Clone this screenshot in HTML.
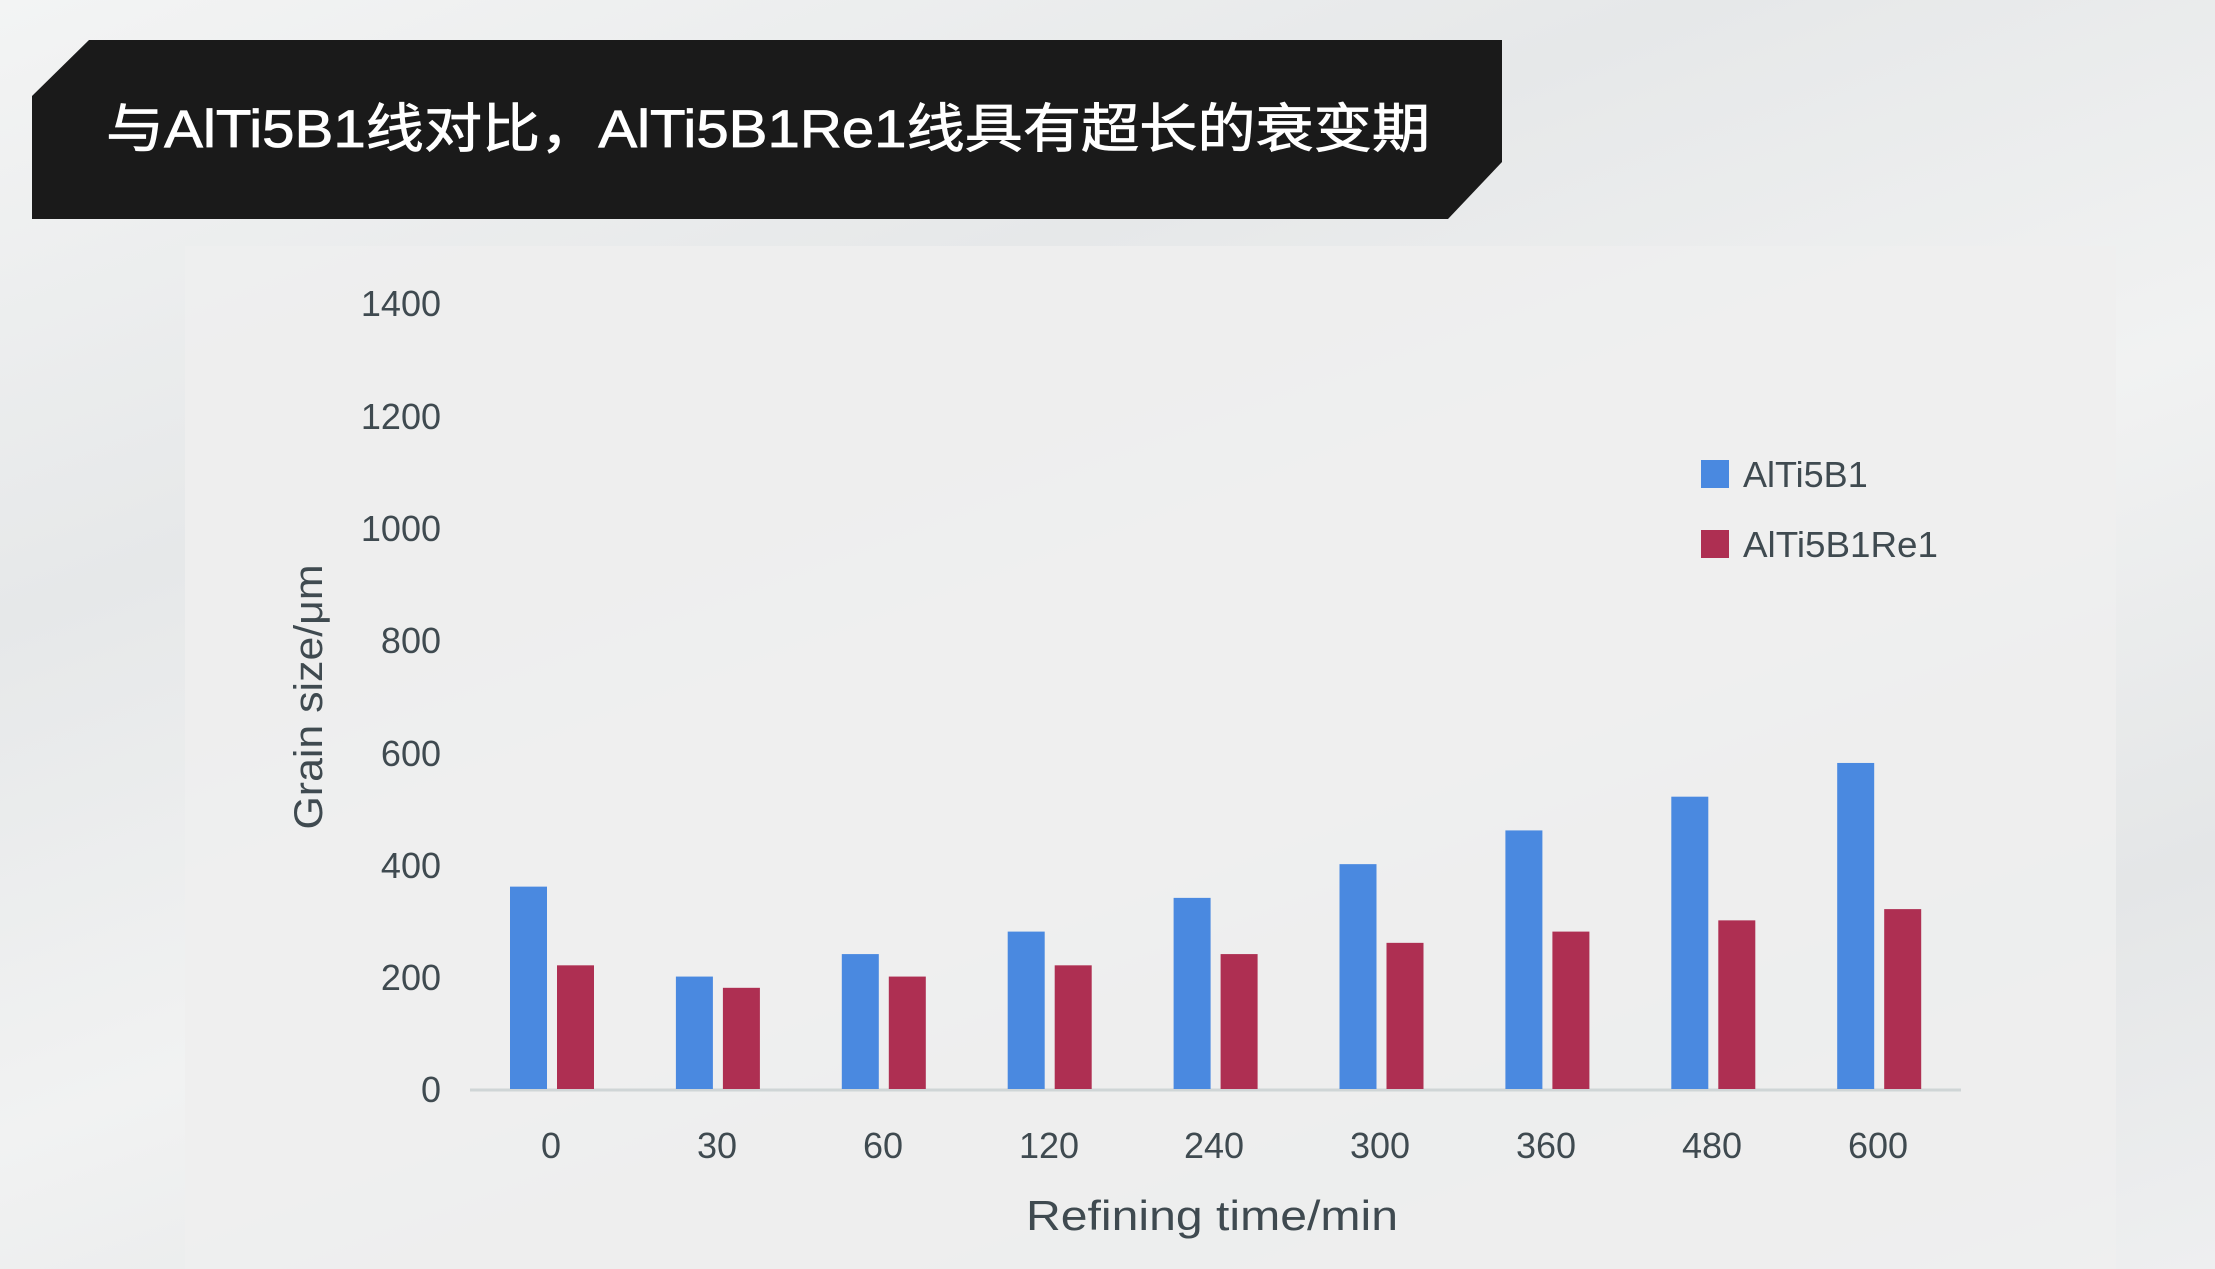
<!DOCTYPE html>
<html><head><meta charset="utf-8"><style>
html,body{margin:0;padding:0}
body{width:2215px;height:1269px;overflow:hidden;background:linear-gradient(160deg,#f3f4f4 0%,#e6e8e9 30%,#f1f2f2 55%,#e4e6e7 80%,#eeeff0 100%);font-family:"Liberation Sans","Noto Sans CJK SC",sans-serif}
</style></head><body>
<svg width="2215" height="1269" viewBox="0 0 2215 1269" xmlns="http://www.w3.org/2000/svg" style="position:absolute;left:0;top:0">
<rect x="185" y="246" width="1931" height="1023" fill="#eeefef" opacity="0.85"/>
<polygon points="89,40 1502,40 1502,162 1448,219 32,219 32,96" fill="#1a1a1a"/>
<text x="106" y="147" font-size="53" fill="#ffffff" stroke="#ffffff" stroke-width="0.8" font-family="Liberation Sans,Noto Sans CJK SC,sans-serif" textLength="1324" lengthAdjust="spacingAndGlyphs">与AlTi5B1线对比，AlTi5B1Re1线具有超长的衰变期</text>
<g font-size="36" fill="#3f4a50" text-anchor="end" font-family="Liberation Sans,sans-serif">
<text x="441" y="1102">0</text><text x="441" y="990">200</text><text x="441" y="878">400</text><text x="441" y="766">600</text><text x="441" y="653">800</text><text x="441" y="541">1000</text><text x="441" y="429">1200</text><text x="441" y="316">1400</text>
</g>
<line x1="470" y1="1090" x2="1961" y2="1090" stroke="#cfd5d6" stroke-width="3"/>
<g id="bars"></g>
<g font-size="36" fill="#3f4a50" text-anchor="middle">
<text x="551" y="1158">0</text><text x="717" y="1158">30</text><text x="883" y="1158">60</text><text x="1049" y="1158">120</text><text x="1214" y="1158">240</text><text x="1380" y="1158">300</text><text x="1546" y="1158">360</text><text x="1712" y="1158">480</text><text x="1878" y="1158">600</text>
<text x="1212" y="1230" font-size="42" textLength="372" lengthAdjust="spacingAndGlyphs">Refining time/min</text>
<text transform="translate(322,697) rotate(-90)" font-size="40" textLength="265" lengthAdjust="spacingAndGlyphs">Grain size/μm</text>
</g>
<rect x="1701" y="460" width="28" height="28" fill="#4a89e0"/>
<rect x="1701" y="530" width="28" height="28" fill="#ae2f52"/>
<g font-size="36" fill="#3f4a50"><text x="1743" y="487">AlTi5B1</text><text x="1743" y="557" textLength="195" lengthAdjust="spacingAndGlyphs">AlTi5B1Re1</text></g>
</svg>
<script>
var b=[360,200,240,280,340,400,460,520,580],r=[220,180,200,220,240,260,280,300,320],s='';
for(var i=0;i<9;i++){var c=551+i*165.9,k=(1089-302)/1400;
s+='<rect x="'+(c-41)+'" y="'+(1089-b[i]*k)+'" width="37" height="'+(b[i]*k)+'" fill="#4a89e0"/>';
s+='<rect x="'+(c+6)+'" y="'+(1089-r[i]*k)+'" width="37" height="'+(r[i]*k)+'" fill="#ae2f52"/>';}
document.getElementById('bars').innerHTML=s;
</script>
</body></html>
